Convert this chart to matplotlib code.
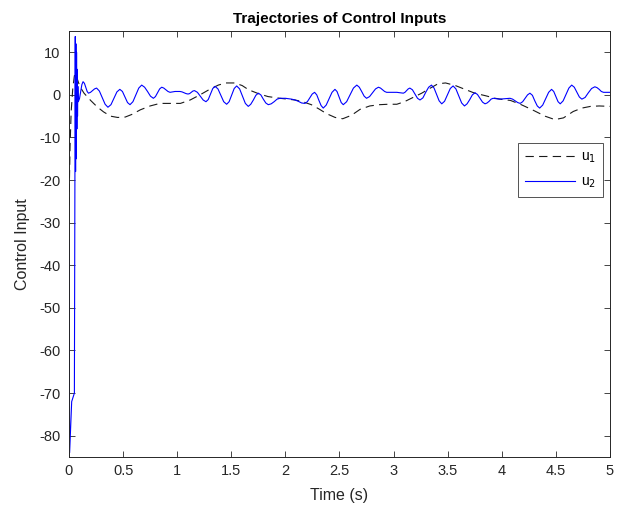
import matplotlib
matplotlib.use("Agg")
import matplotlib.pyplot as plt

plt.rcParams['font.family'] = ['Liberation Sans', 'DejaVu Sans']
plt.rcParams['lines.scale_dashes'] = False
plt.rcParams['axes.unicode_minus'] = False

# u1 (dashed black)
t1 = [0, 0.01, 0.02, 0.035, 0.05, 0.062, 0.08, 0.1, 0.139, 0.2, 0.26, 0.32, 0.385, 0.45,
      0.52, 0.58, 0.66, 0.75, 0.84, 0.93, 1.03, 1.12, 1.21, 1.30, 1.38, 1.45, 1.53, 1.60,
      1.66, 1.75, 1.84, 1.95, 2.09, 2.16, 2.24, 2.31, 2.38, 2.46, 2.53, 2.61, 2.69, 2.78,
      2.87, 2.95, 3.03, 3.10, 3.18, 3.26, 3.34, 3.41, 3.48, 3.57, 3.66, 3.75, 3.85, 3.94,
      4.01, 4.08, 4.18, 4.29, 4.40, 4.49, 4.57, 4.66, 4.74, 4.82, 4.90, 5.0]
u1 = [-26, -12, -4, 1.5, 4.5, 5.1, 3.5, 2.0, 0.4, -1.3, -2.8, -4.0, -5.0, -5.3,
      -5.2, -4.6, -3.5, -2.6, -2.0, -2.0, -2.0, -1.2, 0, 1.3, 2.3, 2.8, 2.8, 2.2,
      1.2, 0.3, -0.4, -0.8, -1.2, -1.6, -2.3, -3.3, -4.4, -5.3, -5.6, -4.8, -3.4, -2.6,
      -2.3, -2.2, -2.2, -1.6, -0.6, 0.4, 1.6, 2.6, 2.8, 2.2, 1.3, 0.4, -0.2, -0.8,
      -1.1, -1.3, -2.3, -3.6, -5.0, -5.8, -5.4, -3.9, -3.1, -2.7, -2.6, -2.7]

# u2 (solid blue)
t2 = [0, 0.006, 0.025, 0.05, 0.055, 0.058, 0.061, 0.064, 0.067, 0.070, 0.073, 0.076, 0.079, 0.082, 0.086,
      0.097, 0.108, 0.119, 0.13,
      0.143, 0.155, 0.168, 0.18,
      0.199, 0.218, 0.236, 0.255,
      0.281, 0.308, 0.334, 0.36,
      0.388, 0.415, 0.443, 0.47,
      0.494, 0.517, 0.541, 0.564,
      0.591, 0.618, 0.645, 0.672,
      0.699, 0.726, 0.753, 0.78,
      0.799, 0.819, 0.838, 0.857,
      0.876, 0.896, 0.915, 0.934,
      0.98, 1.026,
      1.045, 1.063, 1.082, 1.10,
      1.115, 1.13, 1.145, 1.16,
      1.187, 1.213, 1.24, 1.266,
      1.287, 1.308, 1.329, 1.35,
      1.377, 1.404, 1.43, 1.457,
      1.48, 1.504, 1.527, 1.55,
      1.577, 1.604, 1.63, 1.657,
      1.68, 1.704, 1.727, 1.75,
      1.773, 1.796, 1.819, 1.842,
      1.869, 1.896, 1.923, 1.95,
      2.0, 2.058,
      2.089, 2.119, 2.15, 2.18,
      2.203, 2.225, 2.248, 2.27,
      2.29, 2.31, 2.33, 2.35,
      2.377, 2.404, 2.431, 2.458,
      2.477, 2.497, 2.516, 2.535,
      2.566, 2.598, 2.629, 2.66,
      2.683, 2.705, 2.728, 2.75,
      2.778, 2.805, 2.833, 2.86,
      2.879, 2.898, 2.917, 2.936,
      2.98, 3.03, 3.06, 3.09,
      3.105, 3.12, 3.135, 3.15,
      3.174, 3.197, 3.221, 3.244,
      3.271, 3.297, 3.324, 3.35,
      3.374, 3.398, 3.421, 3.445,
      3.471, 3.498, 3.524, 3.55,
      3.576, 3.603, 3.629, 3.655,
      3.679, 3.704, 3.728, 3.752,
      3.775, 3.799, 3.822, 3.845,
      3.864, 3.883, 3.901, 3.92,
      3.95, 3.98, 4.03, 4.076,
      4.1, 4.123, 4.147, 4.17,
      4.193, 4.215, 4.238, 4.26,
      4.283, 4.305, 4.328, 4.35,
      4.378, 4.405, 4.433, 4.46,
      4.48, 4.5, 4.52, 4.54,
      4.567, 4.593, 4.62, 4.646,
      4.67, 4.693, 4.717, 4.74,
      4.77, 4.8, 4.83, 4.86,
      4.88, 4.9, 4.92, 4.94,
      5.0]
u2 = [-34, -84, -72, -70, -20, 13.7, -18, 12, -15, 10, -8, 6, -5, 2, -1.6,
      -0.9, 0.8, 2.4, 3.1,
      2.7, 1.8, 0.8, 0.4,
      0.6, 1.0, 1.4, 1.6,
      0.9, -0.7, -2.2, -2.9,
      -2.3, -0.8, 0.7, 1.3,
      0.8, -0.5, -1.8, -2.3,
      -1.6, 0.0, 1.6, 2.3,
      1.8, 0.8, -0.3, -0.8,
      -0.4, 0.5, 1.4, 1.8,
      1.6, 1.2, 0.8, 0.6,
      0.8, 0.8,
      0.7, 0.5, 0.3, 0.2,
      0.3, 0.6, 0.9, 1.0,
      0.6, -0.3, -1.2, -1.6,
      -1.1, 0.2, 1.5, 2.0,
      1.4, -0.1, -1.6, -2.2,
      -1.6, 0.0, 1.5, 2.1,
      1.4, -0.3, -2.0, -2.7,
      -2.2, -1.2, -0.1, 0.4,
      0.0, -1.0, -1.9, -2.3,
      -2.1, -1.6, -1.0, -0.8,
      -0.8, -1.0,
      -1.2, -1.5, -1.9, -2.0,
      -1.6, -0.7, 0.2, 0.6,
      0.0, -1.3, -2.5, -3.1,
      -2.4, -0.9, 0.6, 1.3,
      0.8, -0.5, -1.8, -2.3,
      -1.6, 0.0, 1.6, 2.3,
      1.8, 0.8, -0.3, -0.8,
      -0.4, 0.5, 1.4, 1.8,
      1.6, 1.2, 0.8, 0.6,
      0.6, 0.6, 0.5, 0.4,
      0.6, 1.0, 1.4, 1.6,
      1.2, 0.2, -0.8, -1.2,
      -0.7, 0.6, 1.8, 2.3,
      1.6, 0.1, -1.4, -2.1,
      -1.5, 0.0, 1.5, 2.1,
      1.4, -0.3, -1.9, -2.6,
      -2.1, -1.1, 0.0, 0.5,
      0.1, -0.8, -1.7, -2.1,
      -1.9, -1.5, -1.0, -0.8,
      -0.9, -1.0, -0.9, -0.8,
      -1.0, -1.4, -1.8, -2.0,
      -1.6, -0.8, 0.0, 0.4,
      -0.1, -1.4, -2.6, -3.1,
      -2.4, -0.9, 0.6, 1.3,
      0.8, -0.4, -1.6, -2.1,
      -1.4, 0.1, 1.6, 2.3,
      1.8, 0.7, -0.5, -1.0,
      -0.6, 0.5, 1.5, 1.9,
      1.7, 1.3, 0.8, 0.6,
      0.6]

xticks = [0, 0.5, 1, 1.5, 2, 2.5, 3, 3.5, 4, 4.5, 5]
xticklabels = ['0', '0.5', '1', '1.5', '2', '2.5', '3', '3.5', '4', '4.5', '5']
yticks = [-80, -70, -60, -50, -40, -30, -20, -10, 0, 10]

fig = plt.figure(figsize=(6.22, 5.13), dpi=100)
ax = fig.add_axes([0.1109, 0.1092, 0.8698, 0.8304])

ax.plot(t1, u1, color='#1a1a1a', lw=0.8, dashes=(6, 3.8), label='u$_1$')
ax.plot(t2, u2, color='#0000ff', lw=0.8, label='u$_2$')

ax.set_xlim(0, 5)
ax.set_ylim(-85, 15)
ax.set_xticks(xticks)
ax.set_xticklabels(xticklabels)
ax.set_yticks(yticks)
axc = '#262626'
for s in ax.spines.values():
    s.set_color(axc)
    s.set_linewidth(0.7)
ax.tick_params(direction='in', length=4, width=0.6, color=axc, labelcolor=axc,
               labelsize=10.5, top=True, right=True)
ax.tick_params(axis='y', pad=6)
ax.tick_params(axis='x', pad=5)

ax.set_title('Trajectories of Control Inputs', fontsize=11, fontweight='bold', color='black', pad=6)
ax.set_xlabel('Time (s)', fontsize=11.5, color=axc, labelpad=7)
ax.set_ylabel('Control Input', fontsize=11.5, color=axc, labelpad=7)

leg = ax.legend(loc='upper right', bbox_to_anchor=(0.987, 0.737), frameon=True,
                fancybox=False, edgecolor='#262626', fontsize=10, handlelength=3.6,
                borderpad=0.5, labelspacing=0.7, handletextpad=0.4, borderaxespad=0)
leg.get_frame().set_linewidth(0.7)

fig.savefig('out.png', dpi=100)
